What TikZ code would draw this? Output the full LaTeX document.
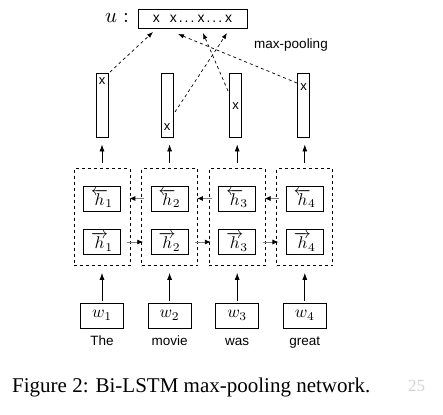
\documentclass[tikz,border=0pt]{standalone}
\usepackage{graphicx}
\usepackage{fontspec}
\setmainfont{Liberation Serif}
\setsansfont{Liberation Sans}
\usetikzlibrary{arrows.meta,calc}
\newcommand{\pdots}{.\hspace{2pt}.\hspace{2pt}.}
\newcommand{\mymathbig}[1]{\scalebox{1.7}{$#1$}}
\begin{document}
\begin{tikzpicture}[x=1pt,y=-1pt,
  box/.style={draw,line width=0.8pt,inner sep=0pt},
  barbox/.style={box,minimum width=12pt,minimum height=64pt},
  hbox/.style={box,minimum width=37pt,minimum height=25pt},
  wbox/.style={box,minimum width=43pt,minimum height=25pt},
  dbox/.style={draw,dashed,line width=0.7pt,minimum width=56pt,minimum height=97pt,inner sep=0pt},
  xmark/.style={font=\sffamily\fontsize{13}{14}\selectfont,inner sep=0pt},
  wordlabel/.style={font=\sffamily\fontsize{13.5}{15}\selectfont,inner sep=0pt,anchor=base},
  uparrow/.style={line width=0.8pt,-{Latex[length=7pt,width=5pt]}},
  harrow/.style={line width=0.8pt,gray,-{Latex[length=6pt,width=5pt,black]}},
  poolarrow/.style={line width=0.7pt,dashed,-{Latex[length=6pt,width=4.5pt]}}
]
\useasboundingbox (0,0) rectangle (443,414);

% u box
\node[box,minimum width=109pt,minimum height=19pt,font=\sffamily\fontsize{14}{16}\selectfont] (ubox) at (192.5,19) {x\hspace{10pt}x\hspace{2pt}\pdots\hspace{3pt}x\hspace{2pt}\pdots\hspace{3pt}x};
\node[inner sep=0pt] (ulab) at (117,18) {\scalebox{2.1}{$u:$}};
\node[inner sep=0pt,font=\sffamily\fontsize{13.5}{15}\selectfont] (mp) at (291,45) {max-pooling};

% bars
\node[barbox] (bar1) at (102,105) {};
\node[barbox] (bar2) at (167,105) {};
\node[barbox] (bar3) at (235.5,105) {};
\node[barbox] (bar4) at (303.5,105) {};
\node[xmark] (x1) at (102,81) {x};
\node[xmark] (x2) at (167,127) {x};
\node[xmark] (x3) at (235.5,106) {x};
\node[xmark] (x4) at (303.5,87) {x};

% pooling connectors
\coordinate (s1) at (110,72);
\coordinate (s2) at (175,112);
\coordinate (s3) at (228,91);
\coordinate (s4) at (297,83);
\coordinate (t1) at (153,32);
\coordinate (t2) at (227,33);
\coordinate (t3) at (203,33);
\coordinate (t4) at (178,34);
\draw[poolarrow] (s1) -- (t1);
\draw[poolarrow] (s2) -- (t2);
\draw[poolarrow] (s3) -- (t3);
\draw[poolarrow] (s4) -- (t4);

% columns
\foreach \i/\c in {1/102,2/169.6,3/237.2,4/304.8}{
  \node[dbox] (d\i) at (\c,217) {};
  \node[hbox] (b\i) at (\c,198.5) {\mymathbig{\overleftarrow{h}\!_{\i}}};
  \node[hbox] (f\i) at (\c,242) {\mymathbig{\overrightarrow{h}\!_{\i}}};
  \node[wbox] (w\i) at (\c,315.5) {\mymathbig{w_{\i}}};
  \draw[uparrow,shorten <=2pt,shorten >=7pt] (w\i.north) -- (d\i.south);
  \draw[uparrow,shorten <=5pt,shorten >=7pt] (d\i.north) -- (d\i.north |- bar\i.south);
}
\node[wordlabel] (l1) at (102,345) {The};
\node[wordlabel] (l2) at (169.6,345) {movie};
\node[wordlabel] (l3) at (237.2,345) {was};
\node[wordlabel] (l4) at (304.8,345) {great};

% recurrent connectors
\foreach \a/\b in {1/2,2/3,3/4}{
  \draw[harrow] ([xshift=3pt]d\b.west |- b\b) -- ([xshift=-1pt]d\a.east |- b\a);
  \draw[harrow] ([xshift=-3pt]d\a.east |- f\a) -- ([xshift=2pt]d\b.west |- f\b);
}

% caption
\node[anchor=base west,inner sep=0pt,font=\fontsize{21}{23}\selectfont] (cap) at (12,392) {Figure 2: Bi-LSTM max-pooling network.};
\node[anchor=base west,inner sep=0pt,text=gray!35,font=\fontsize{17}{19}\selectfont] (wm) at (408,391) {25};
\end{tikzpicture}
\end{document}
